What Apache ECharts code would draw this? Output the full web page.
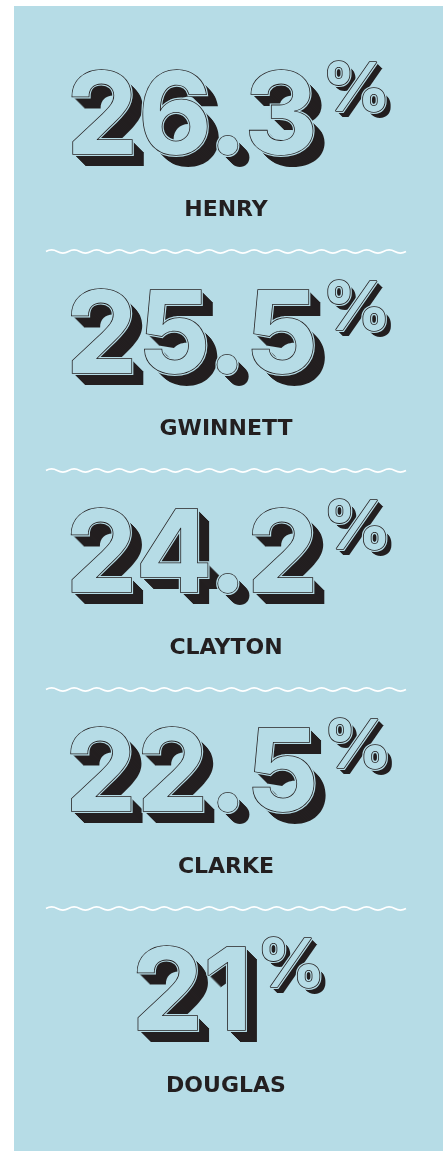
<!DOCTYPE html>
<html>
<head>
<meta charset="utf-8">
<script src="https://cdn.jsdelivr.net/npm/echarts@6/dist/echarts.min.js"></script>
<style>
  html, body { margin: 0; padding: 0; background: #fff; }
  #chart { position: absolute; left: 14px; top: 6px; width: 429px; height: 1145px; }
</style>
</head>
<body>
<div id="chart"></div>
<script>
const counties = ['HENRY', 'GWINNETT', 'CLAYTON', 'CLARKE', 'DOUGLAS'];
const shares = [26.3, 25.5, 24.2, 22.5, 21];

const DARK = '#231f20';
const PANEL = '#b6dce6';
const NUM_FONT = '700 114px Inter';
const PCT_FONT = '700 68px Inter';
const LABEL_FONT = 'bold 22px "DejaVu Sans"';

// canvas measuring, so number + % can be centred as one group
const ctx = document.createElement('canvas').getContext('2d');
function measure(text, font) {
  ctx.font = font;
  ctx.textBaseline = 'middle';
  const m = ctx.measureText(text);
  return { w: m.width, asc: m.actualBoundingBoxAscent, desc: m.actualBoundingBoxDescent };
}

function wavePath(x0, y, halfW, count, amp) {
  let d = 'M' + x0 + ',' + y;
  for (let i = 0; i < count; i++) {
    d += ' q' + halfW / 2 + ',' + (i % 2 ? 2 * amp : -2 * amp) + ' ' + halfW + ',0';
  }
  return d;
}

function extruded(text, x, y, font, depth) {
  const els = [];
  for (let k = depth; k >= 1; k--) {
    els.push({
      type: 'text', x: x + k, y: y + k,
      style: { text: text, font: font, fill: DARK, align: 'left', verticalAlign: 'middle' }
    });
  }
  // thin light gap between outline and extrusion
  els.push({
    type: 'text', x: x, y: y,
    style: { text: text, font: font, fill: PANEL, stroke: PANEL, lineWidth: 4, align: 'left', verticalAlign: 'middle' }
  });
  els.push({
    type: 'text', x: x, y: y,
    style: { text: text, font: font, fill: PANEL, stroke: DARK, lineWidth: 1.6, align: 'left', verticalAlign: 'middle' }
  });
  return els;
}

function renderItem(params, api) {
  const i = params.dataIndex;
  const cs = params.coordSys;
  const cx = cs.x + cs.width / 2;
  const y = api.coord([api.value(1), i])[1];
  const num = String(api.value(1));

  const nm = measure(num, NUM_FONT);
  const digit = measure('0', NUM_FONT);
  const pm = measure('%', PCT_FONT);
  const gap = 4;
  const left = cx - (nm.w + gap + pm.w) / 2;
  const numY = y - 138 + digit.asc;
  const pctY = y - 147 + pm.asc;

  const lm = measure('H', LABEL_FONT);
  const labelX = cx - 2.5;

  const children = []
    .concat(extruded(num, left, numY, NUM_FONT, 12))
    .concat(extruded('%', left + nm.w + gap, pctY, PCT_FONT, 6));

  children.push({
    type: 'text', x: labelX, y: y + (lm.asc - lm.desc) / 2,
    style: { text: counties[i], font: LABEL_FONT, fill: DARK, align: 'center', verticalAlign: 'middle' }
  });

  if (i < counties.length - 1) {
    children.push({
      type: 'path',
      shape: { pathData: wavePath(labelX - 180, y + 43.5, 11.25, 32, 1.6) },
      style: { fill: null, stroke: '#ffffff', lineWidth: 1.6 }
    });
  }
  return { type: 'group', children: children };
}

const chart = echarts.init(document.getElementById('chart'), null, { renderer: 'canvas' });
chart.setOption({
  backgroundColor: PANEL,
  animation: false,
  grid: { left: 0, right: 0, top: 202, bottom: 67 },
  xAxis: { type: 'value', min: 0, max: 30, show: false },
  yAxis: { type: 'category', data: counties, inverse: true, boundaryGap: false, show: false },
  series: [{
    type: 'custom',
    silent: true,
    encode: { x: 1, y: 0 },
    data: counties.map((c, i) => [c, shares[i]]),
    renderItem: renderItem
  }]
});
</script>
</body>
</html>
